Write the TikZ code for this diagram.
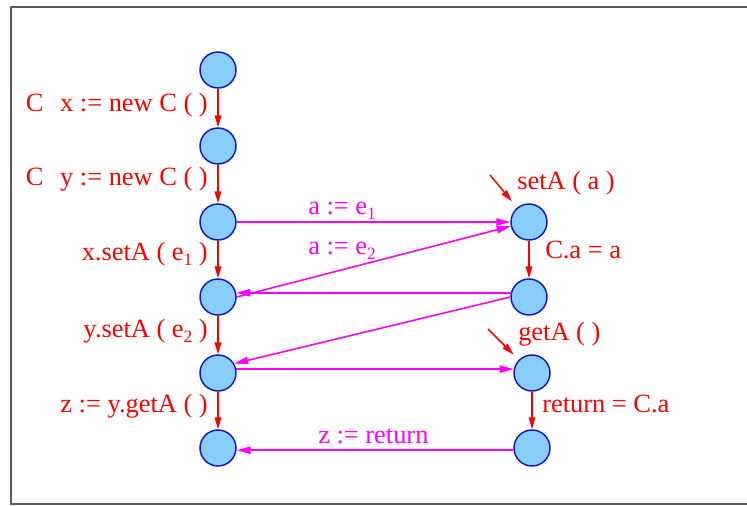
\documentclass[tikz,border=0pt]{standalone}
\usepackage{fontspec}
\setmainfont{Liberation Serif}
\usetikzlibrary{arrows.meta}
\definecolor{nodefill}{RGB}{135,206,250}
\definecolor{nodeline}{RGB}{20,20,200}
\definecolor{framec}{RGB}{90,90,90}
\definecolor{mag}{RGB}{255,0,255}
\definecolor{rd}{RGB}{255,0,0}
\newcommand\lblfont{\fontsize{19.8pt}{24pt}\selectfont}
\newcommand\sbx[1]{\raisebox{-3.6pt}{\fontsize{13pt}{14pt}\selectfont #1}}
\tikzset{
  st/.style={circle, draw=nodeline, fill=nodefill, line width=1.1pt, minimum size=27pt, inner sep=0pt},
  ra/.style={draw=rd, line width=1.1pt, -{Triangle[length=9pt,width=5pt]}},
  ma/.style={draw=mag, line width=1.2pt, -{Triangle[length=10.5pt,width=5.5pt]}},
  rl/.style={text=rd, font=\lblfont, inner sep=0pt},
  ml/.style={text=mag, font=\lblfont, inner sep=0pt}
}
\begin{document}
\begin{tikzpicture}[x=0.75pt, y=-0.75pt]
\useasboundingbox (0,0) rectangle (747,506);
% frame
\draw[framec, line width=1.5pt] (747,7) -- (10.5,7) -- (10.5,504) -- (747,504);
% states
\node[st] (L1) at (218,70) {};
\node[st] (L2) at (218,146) {};
\node[st] (L3) at (218,222) {};
\node[st] (L4) at (218,297) {};
\node[st] (L5) at (218,373) {};
\node[st] (L6) at (218,448) {};
\node[st] (R1) at (529,222) {};
\node[st] (R2) at (529,297) {};
\node[st] (R3) at (532,373) {};
\node[st] (R4) at (532,448) {};
\coordinate (s1) at (490,175);
\coordinate (s2) at (488,329);
% red transitions
\draw[ra] (L1) -- (L2);
\draw[ra] (L2) -- (L3);
\draw[ra] (L3) -- (L4);
\draw[ra] (L4) -- (L5);
\draw[ra] (L5) -- (L6);
\draw[ra] (R1) -- (R2);
\draw[ra] (R3) -- (R4);
\draw[ra, shorten >=6pt] (s1) -- (R1);
\draw[ra, shorten >=5.5pt] (s2) -- (R3);
% magenta transitions
\draw[ma] (L3) -- (R1);
\draw[ma] (L4.east) -- (R1.193);
\draw[ma] (R2.167) -- (L4.13);
\draw[ma] (R2.west) -- (L5.30);
\draw[ma] (L5.12) -- (R3.168);
\draw[ma] (R4.187) -- (L6.-7);
% red labels
\node[rl, anchor=base east] (t1) at (208,112) {C\hspace{12.5pt}x := new C ( )};
\node[rl, anchor=base east] (t2) at (208,186) {C\hspace{12.5pt}y := new C ( )};
\node[rl, anchor=base east] (t3) at (208,261) {x.setA ( e\sbx{1} )};
\node[rl, anchor=base east] (t4) at (208,338) {y.setA ( e\sbx{2} )};
\node[rl, anchor=base east] (t5) at (208,412) {z := y.getA ( )};
\node[rl, anchor=base west] (t6) at (517,190) {setA ( a )};
\node[rl, anchor=base west] (t7) at (545,259) {C.a = a};
\node[rl, anchor=base west] (t8) at (518,340) {getA ( )};
\node[rl, anchor=base west] (t9) at (542,412) {return = C.a};
% magenta labels
\node[ml, anchor=base west] (m1) at (308,215) {a := e\sbx{1}};
\node[ml, anchor=base west] (m2) at (308,255) {a := e\sbx{2}};
\node[ml, anchor=base west] (m3) at (318,443) {z := return};
\end{tikzpicture}
\end{document}
